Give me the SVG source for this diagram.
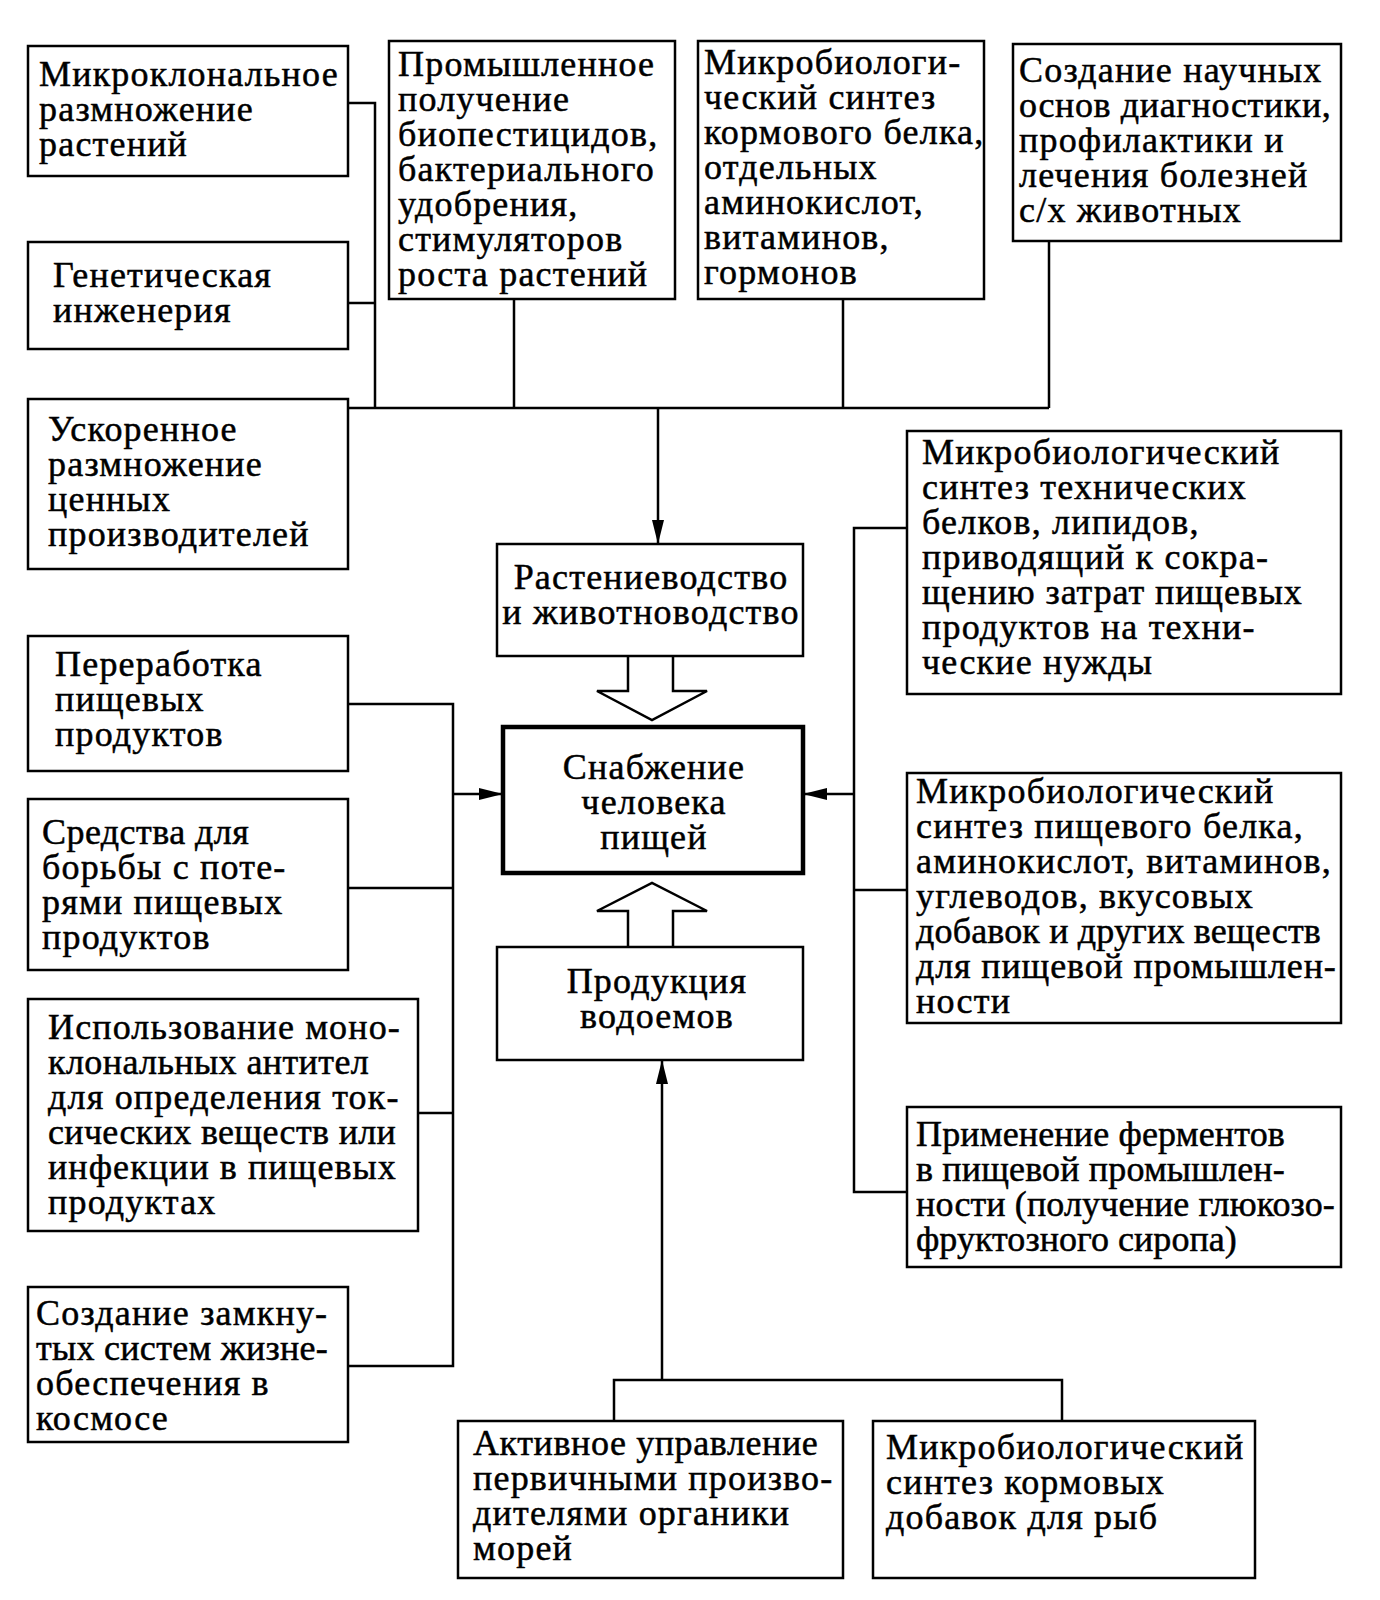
<svg xmlns="http://www.w3.org/2000/svg" width="1380" height="1600" viewBox="0 0 1380 1600">
<style>
.b{fill:#fff;stroke:#000;stroke-width:2.5}
.hb{fill:#fff;stroke:#000;stroke-width:4.5}
.c{fill:none;stroke:#000;stroke-width:2.5}
.t{font-family:"Liberation Serif","Times New Roman",serif;font-size:36px;letter-spacing:1.2px;fill:#000;stroke:#000;stroke-width:0.5}
.m{text-anchor:middle}
</style>
<defs>
<marker id="ahl" viewBox="0 0 24 12" refX="24" refY="6" markerWidth="24" markerHeight="12" markerUnits="userSpaceOnUse" orient="auto">
<path d="M0,0 L24,6 L0,12 Z" fill="#000"/>
</marker>
</defs>
<rect width="1380" height="1600" fill="#fff"/>
<g id="connectors">
<path class="c" d="M348,103 H375 V408 M348,303 H375 M348,408 H1049 M514,299 V408 M843,299 V408 M1049,241 V408"/>
<path class="c" d="M658,408 V544" marker-end="url(#ahl)"/>
<path class="c" d="M348,704 H453 V1366 H348 M348,888 H453 M418,1113 H453"/>
<path class="c" d="M453,794 H503" marker-end="url(#ahl)"/>
<path class="c" d="M907,528 H854 V1192 H907 M854,890 H907"/>
<path class="c" d="M854,794 H803" marker-end="url(#ahl)"/>
<path class="c" d="M614,1421 V1380 H1062 V1421"/>
<path class="c" d="M662,1380 V1060" marker-end="url(#ahl)"/>
<path class="b" d="M628,656 V691 H597 L652,720 L707,691 H673 V656"/>
<path class="b" d="M628,947 V911 H597 L652,883 L707,911 H673 V947"/>
</g>
<g id="n_mikroklon">
<rect class="b" x="28" y="46" width="320" height="130"/>
<text class="t" x="39" y="86"><tspan x="39">Микроклональное</tspan><tspan x="39" dy="35">размножение</tspan><tspan x="39" dy="35">растений</tspan></text>
</g>
<g id="n_genetic">
<rect class="b" x="28" y="242" width="320" height="107"/>
<text class="t" x="53" y="287"><tspan x="53">Генетическая</tspan><tspan x="53" dy="35">инженерия</tspan></text>
</g>
<g id="n_uskor">
<rect class="b" x="28" y="399" width="320" height="170"/>
<text class="t" x="48" y="441"><tspan x="48">Ускоренное</tspan><tspan x="48" dy="35">размножение</tspan><tspan x="48" dy="35">ценных</tspan><tspan x="48" dy="35">производителей</tspan></text>
</g>
<g id="n_prom">
<rect class="b" x="389" y="41" width="286" height="258"/>
<text class="t" x="398" y="76"><tspan x="398">Промышленное</tspan><tspan x="398" dy="35">получение</tspan><tspan x="398" dy="35">биопестицидов,</tspan><tspan x="398" dy="35">бактериального</tspan><tspan x="398" dy="35">удобрения,</tspan><tspan x="398" dy="35">стимуляторов</tspan><tspan x="398" dy="35">роста растений</tspan></text>
</g>
<g id="n_korm">
<rect class="b" x="698" y="41" width="286" height="258"/>
<text class="t" x="704" y="74"><tspan x="704">Микробиологи-</tspan><tspan x="704" dy="35">ческий синтез</tspan><tspan x="704" dy="35">кормового белка,</tspan><tspan x="704" dy="35">отдельных</tspan><tspan x="704" dy="35">аминокислот,</tspan><tspan x="704" dy="35">витаминов,</tspan><tspan x="704" dy="35">гормонов</tspan></text>
</g>
<g id="n_diag">
<rect class="b" x="1013" y="44" width="328" height="197"/>
<text class="t" x="1019" y="82"><tspan x="1019">Создание научных</tspan><tspan x="1019" dy="35" textLength="313">основ диагностики,</tspan><tspan x="1019" dy="35">профилактики и</tspan><tspan x="1019" dy="35">лечения болезней</tspan><tspan x="1019" dy="35">с/х животных</tspan></text>
</g>
<g id="n_rast">
<rect class="b" x="497" y="544" width="306" height="112"/>
<text class="t m" x="651" y="589"><tspan x="651">Растениеводство</tspan><tspan x="651" dy="35">и животноводство</tspan></text>
</g>
<g id="n_snab">
<rect class="hb" x="503" y="727" width="300" height="146"/>
<text class="t m" x="654" y="779"><tspan x="654">Снабжение</tspan><tspan x="654" dy="35">человека</tspan><tspan x="654" dy="35">пищей</tspan></text>
</g>
<g id="n_vodoem">
<rect class="b" x="497" y="947" width="306" height="113"/>
<text class="t m" x="657" y="993"><tspan x="657">Продукция</tspan><tspan x="657" dy="35">водоемов</tspan></text>
</g>
<g id="n_pererab">
<rect class="b" x="28" y="636" width="320" height="135"/>
<text class="t" x="55" y="676"><tspan x="55">Переработка</tspan><tspan x="55" dy="35">пищевых</tspan><tspan x="55" dy="35">продуктов</tspan></text>
</g>
<g id="n_sredstva">
<rect class="b" x="28" y="799" width="320" height="171"/>
<text class="t" x="42" y="844"><tspan x="42" textLength="208">Средства для</tspan><tspan x="42" dy="35">борьбы с  поте-</tspan><tspan x="42" dy="35">рями пищевых</tspan><tspan x="42" dy="35">продуктов</tspan></text>
</g>
<g id="n_monoklon">
<rect class="b" x="28" y="999" width="390" height="232"/>
<text class="t" x="48" y="1039"><tspan x="48" textLength="353">Использование моно-</tspan><tspan x="48" dy="35" textLength="322">клональных антител</tspan><tspan x="48" dy="35">для определения ток-</tspan><tspan x="48" dy="35" textLength="349">сических веществ или</tspan><tspan x="48" dy="35" textLength="349">инфекции в пищевых</tspan><tspan x="48" dy="35">продуктах</tspan></text>
</g>
<g id="n_kosmos">
<rect class="b" x="28" y="1287" width="320" height="155"/>
<text class="t" x="36" y="1325"><tspan x="36">Создание замкну-</tspan><tspan x="36" dy="35" textLength="293">тых систем жизне-</tspan><tspan x="36" dy="35">обеспечения в</tspan><tspan x="36" dy="35">космосе</tspan></text>
</g>
<g id="n_tehn">
<rect class="b" x="907" y="431" width="434" height="263"/>
<text class="t" x="922" y="464"><tspan x="922">Микробиологический</tspan><tspan x="922" dy="35">синтез технических</tspan><tspan x="922" dy="35">белков,  липидов,</tspan><tspan x="922" dy="35">приводящий к сокра-</tspan><tspan x="922" dy="35" textLength="381">щению затрат пищевых</tspan><tspan x="922" dy="35">продуктов на техни-</tspan><tspan x="922" dy="35">ческие нужды</tspan></text>
</g>
<g id="n_pishbelok">
<rect class="b" x="907" y="773" width="434" height="250"/>
<text class="t" x="916" y="803"><tspan x="916">Микробиологический</tspan><tspan x="916" dy="35">синтез пищевого белка,</tspan><tspan x="916" dy="35" textLength="416">аминокислот,  витаминов,</tspan><tspan x="916" dy="35">углеводов,  вкусовых</tspan><tspan x="916" dy="35" textLength="406">добавок и других веществ</tspan><tspan x="916" dy="35" textLength="421">для пищевой промышлен-</tspan><tspan x="916" dy="35">ности</tspan></text>
</g>
<g id="n_ferment">
<rect class="b" x="907" y="1107" width="434" height="160"/>
<text class="t" x="916" y="1146"><tspan x="916" textLength="370">Применение ферментов</tspan><tspan x="916" dy="35" textLength="370">в пищевой промышлен-</tspan><tspan x="916" dy="35" textLength="420">ности (получение глюкозо-</tspan><tspan x="916" dy="35" textLength="322">фруктозного сиропа)</tspan></text>
</g>
<g id="n_aktiv">
<rect class="b" x="458" y="1421" width="385" height="157"/>
<text class="t" x="473" y="1455"><tspan x="473" textLength="346">Активное управление</tspan><tspan x="473" dy="35">первичными произво-</tspan><tspan x="473" dy="35">дителями органики</tspan><tspan x="473" dy="35">морей</tspan></text>
</g>
<g id="n_ryby">
<rect class="b" x="873" y="1421" width="382" height="157"/>
<text class="t" x="886" y="1459"><tspan x="886">Микробиологический</tspan><tspan x="886" dy="35">синтез кормовых</tspan><tspan x="886" dy="35">добавок для рыб</tspan></text>
</g>
</svg>
